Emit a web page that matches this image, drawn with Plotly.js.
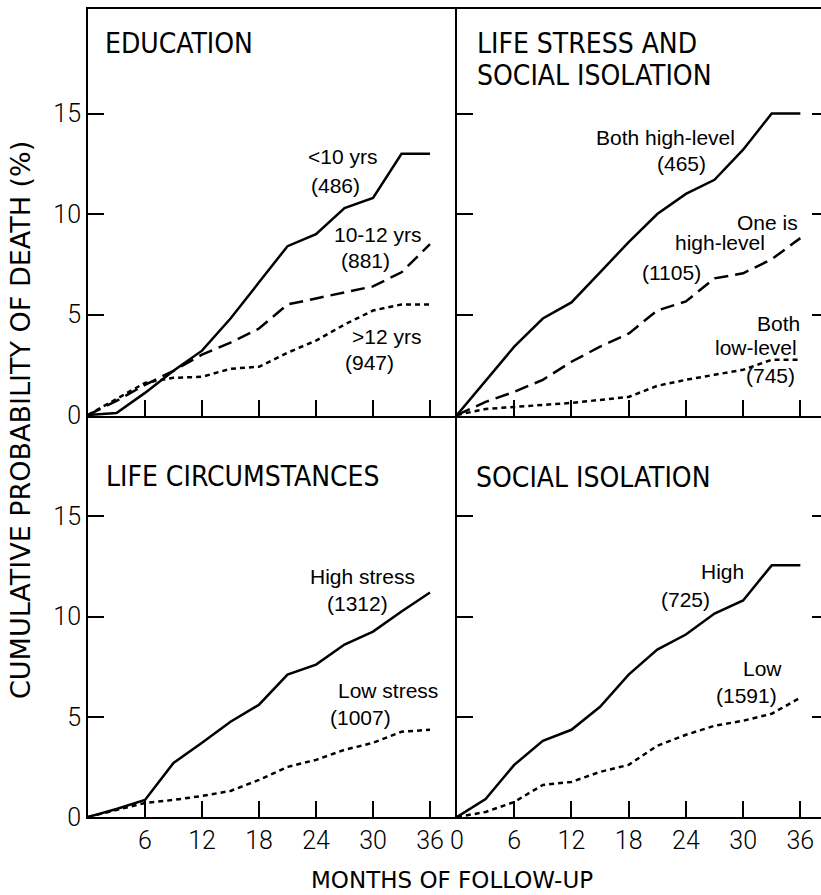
<!DOCTYPE html>
<html>
<head>
<meta charset="utf-8">
<script src="https://cdn.plot.ly/plotly-3.0.1.min.js"></script>
<style>
  html, body { margin: 0; padding: 0; background: #fff; overflow: hidden; }
  #chart { width: 828px; height: 895px; }
</style>
</head>
<body>
<div id="chart"></div>
<script>
// Follow-up time (months) at which each cumulative mortality curve is read
const months = [0, 3, 6, 9, 12, 15, 18, 21, 24, 27, 30, 33, 36];

// Education
const eduUnder10 = [0, 0.1, 1.1, 2.2, 3.2, 4.8, 6.6, 8.4, 9.0, 10.3, 10.8, 13.0, 13.0];
const edu10to12  = [0, 0.7, 1.5, 2.2, 3.0, 3.6, 4.3, 5.5, 5.8, 6.1, 6.4, 7.1, 8.5];
const eduOver12  = [0, 0.8, 1.6, 1.85, 1.9, 2.3, 2.4, 3.1, 3.7, 4.5, 5.2, 5.5, 5.5];

// Life stress and social isolation combined
const bothHigh = [0, 1.7, 3.4, 4.8, 5.6, 7.1, 8.6, 10.0, 11.0, 11.7, 13.2, 15.0, 15.0];
const oneHigh  = [0, 0.65, 1.15, 1.75, 2.65, 3.4, 4.05, 5.2, 5.65, 6.8, 7.05, 7.75, 8.8];
const bothLow  = [0, 0.3, 0.4, 0.5, 0.6, 0.75, 0.9, 1.45, 1.75, 2.0, 2.25, 2.75, 2.75];

// Life circumstances
const highStress = [0, 0.4, 0.85, 2.7, 3.7, 4.75, 5.6, 7.1, 7.6, 8.6, 9.25, 10.25, 11.2];
const lowStress  = [0, 0.35, 0.7, 0.85, 1.05, 1.3, 1.85, 2.5, 2.85, 3.35, 3.7, 4.25, 4.35];

// Social isolation
const isoHigh = [0, 0.9, 2.6, 3.8, 4.35, 5.5, 7.1, 8.35, 9.1, 10.15, 10.8, 12.55, 12.55];
const isoLow  = [0, 0.25, 0.75, 1.6, 1.75, 2.25, 2.6, 3.55, 4.1, 4.55, 4.8, 5.15, 5.95];

// Tick marks and labels
const yTicks = [0, 5, 10, 15];
const yTickText = ['0', '5', '10', '15'];
const xTicksLeft = [6, 12, 18, 24, 30, 36];
const xTicksRight = [0, 6, 12, 18, 24, 30, 36];

// Panel headings and series captions
const panelTitles = [
  ['EDUCATION'],
  ['LIFE STRESS AND', 'SOCIAL ISOLATION'],
  ['LIFE CIRCUMSTANCES'],
  ['SOCIAL ISOLATION']
];
const captions = [
  ['<10 yrs', '(486)', '10-12 yrs', '(881)', '>12 yrs', '(947)'],
  ['Both high-level', '(465)', 'One is', 'high-level', '(1105)', 'Both', 'low-level', '(745)'],
  ['High stress', '(1312)', 'Low stress', '(1007)'],
  ['High', '(725)', 'Low', '(1591)']
];

const W = 828, H = 895;
const INK = '#000';
const tickFont = { family: 'Roboto, "DejaVu Sans", sans-serif', size: 25, color: INK, weight: 300 };
const headFont = { family: '"Liberation Sans Narrow", "DejaVu Sans Condensed", "Liberation Sans", sans-serif', size: 28, color: INK };
const capFont = { family: '"Liberation Sans", Arial, sans-serif', size: 21, color: INK };

const solid = { color: INK, width: 2.5 };
const dashed = { color: INK, width: 2.5, dash: '14px,7px' };
const dotted = { color: INK, width: 2.5, dash: '5px,4px' };

function series(y, line, ax) {
  return { x: months, y: y, type: 'scatter', mode: 'lines', line: line,
           xaxis: 'x' + ax, yaxis: 'y' + ax, hoverinfo: 'skip', showlegend: false };
}

const data = [
  series(eduOver12, dotted, ''), series(edu10to12, dashed, ''), series(eduUnder10, solid, ''),
  series(bothLow, dotted, '2'), series(oneHigh, dashed, '2'), series(bothHigh, solid, '2'),
  series(lowStress, dotted, '3'), series(highStress, solid, '3'),
  series(isoLow, dotted, '4'), series(isoHigh, solid, '4')
];

// Panel frame geometry in page pixels
const px = v => v / W;
const py = v => 1 - v / H;
const colL = [px(88), px(457)], colR = [px(457), 1];
const rowT = [py(416), py(9)], rowB = [py(817), py(416)];

// Shared borders are drawn once: the top panels' x axes draw the middle
// horizontal rule, the right panels' y axes draw the middle vertical rule.
function xAxis(domain, anchor, range, tickvals, labels, mirror) {
  return {
    domain: domain, anchor: anchor, range: range, fixedrange: true,
    showgrid: false, zeroline: false, showline: true, linecolor: INK, linewidth: 2, mirror: mirror,
    ticks: 'inside', ticklen: 16, tickwidth: 2, tickcolor: INK,
    tickmode: 'array', tickvals: tickvals, ticktext: tickvals.map(String),
    showticklabels: labels, tickfont: tickFont
  };
}
function yAxis(domain, anchor, range, mirror, labels) {
  return {
    domain: domain, anchor: anchor, range: range, fixedrange: true,
    showgrid: false, zeroline: false, showline: true, linecolor: INK, linewidth: 2, mirror: mirror,
    ticks: 'inside', ticklen: 16, tickwidth: 2, tickcolor: INK,
    tickmode: 'array', tickvals: yTicks, ticktext: yTickText,
    showticklabels: labels, tickfont: tickFont
  };
}

const xRangeL = [0, 38.84], xRangeR = [0, 38.9];
const yRangeT = [-0.05, 20.2], yRangeB = [0, 20];

// Caption placement, in each panel's own data units
const captionPos = [
  [[26.8, 12.84], [26.1, 11.44], [30.5, 9.0], [29.2, 7.71], [31.4, 3.93], [29.6, 2.59]],
  [[21.9, 13.83], [23.5, 12.49], [32.6, 9.6], [27.6, 8.56], [22.5, 7.11], [33.7, 4.53], [31.3, 3.38], [32.9, 1.99]],
  [[28.9, 12.0], [28.4, 10.66], [31.6, 6.33], [28.7, 4.98]],
  [[27.8, 12.26], [24.0, 10.86], [32.0, 7.42], [30.4, 6.08]]
];
const headPos = [
  [[1.6, 18.46]],
  [[1.89, 18.46], [1.89, 16.9]],
  [[1.69, 16.99]],
  [[1.8, 16.94]]
];
const axisIds = ['', '2', '3', '4'];

const annotations = [];
panelTitles.forEach((lines, p) => {
  lines.forEach((t, i) => {
    annotations.push({ text: t, x: headPos[p][i][0], y: headPos[p][i][1],
      xref: 'x' + axisIds[p], yref: 'y' + axisIds[p], xanchor: 'left', yanchor: 'middle',
      showarrow: false, font: headFont });
  });
});
captions.forEach((lines, p) => {
  lines.forEach((t, i) => {
    annotations.push({ text: t.replace('<', '&lt;').replace('>', '&gt;'),
      x: captionPos[p][i][0], y: captionPos[p][i][1],
      xref: 'x' + axisIds[p], yref: 'y' + axisIds[p], xanchor: 'center', yanchor: 'middle',
      showarrow: false, font: capFont });
  });
});
// Shared axis titles
annotations.push({ text: 'CUMULATIVE PROBABILITY OF DEATH (%)', textangle: -90,
  x: px(21), y: py(420), xref: 'paper', yref: 'paper', xanchor: 'center', yanchor: 'middle',
  showarrow: false, font: { family: '"DejaVu Sans", sans-serif', size: 27, color: INK } });
annotations.push({ text: 'MONTHS OF FOLLOW-UP',
  x: px(452), y: py(880), xref: 'paper', yref: 'paper', xanchor: 'center', yanchor: 'middle',
  showarrow: false, font: { family: '"DejaVu Sans", sans-serif', size: 23, color: INK } });

const layout = {
  width: W, height: H,
  margin: { l: 0, r: 0, t: 0, b: 0, pad: 0 },
  paper_bgcolor: '#fff', plot_bgcolor: '#fff',
  showlegend: false,
  xaxis:  xAxis(colL, 'y',  xRangeL, xTicksRight, false, true),
  yaxis:  yAxis(rowT, 'x',  yRangeT, false, true),
  xaxis2: xAxis(colR, 'y2', xRangeR, xTicksRight, false, true),
  yaxis2: yAxis(rowT, 'x2', yRangeT, 'ticks', false),
  xaxis3: xAxis(colL, 'y3', xRangeL, xTicksLeft, true, false),
  yaxis3: yAxis(rowB, 'x3', yRangeB, false, true),
  xaxis4: xAxis(colR, 'y4', xRangeR, xTicksRight, true, false),
  yaxis4: yAxis(rowB, 'x4', yRangeB, 'ticks', false),
  annotations: annotations
};

Plotly.newPlot('chart', data, layout, { displayModeBar: false, staticPlot: true });
</script>
</body>
</html>
